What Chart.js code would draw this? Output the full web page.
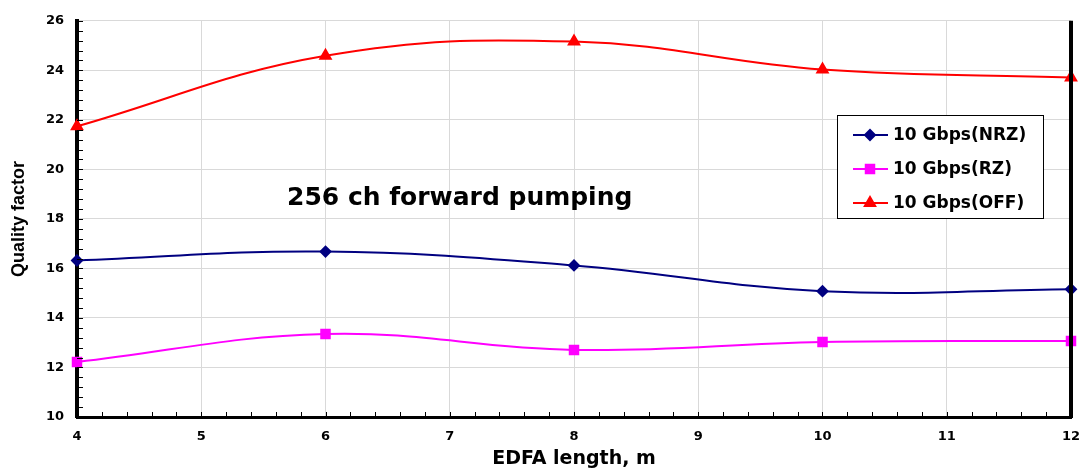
<!DOCTYPE html>
<html lang="en">
<head>
<meta charset="UTF-8">
<title>Quality factor vs EDFA length</title>
<script src="https://cdn.jsdelivr.net/npm/chart.js"></script>
<style>
  html, body { margin: 0; padding: 0; background: #fff; }
  #wrap { width: 1081px; height: 470px; position: relative; }
</style>
</head>
<body>
<div id="wrap"><canvas id="chart"></canvas></div>
<script>
// data
var edfaLength = [4, 6, 8, 10, 12];
var nrz = [16.32, 16.68, 16.12, 15.08, 15.16];
var rz = [12.22, 13.35, 12.71, 13.03, 13.07];
var off = [21.74, 24.59, 25.16, 24.03, 23.71];
var seriesNames = ['10 Gbps(NRZ)', '10 Gbps(RZ)', '10 Gbps(OFF)'];
var yTicks = [10, 12, 14, 16, 18, 20, 22, 24, 26];
var xTicks = [4, 5, 6, 7, 8, 9, 10, 11, 12];
var noteText = '256 ch forward pumping';

function pts(vals) {
    return vals.map(function(v, i) { return { x: edfaLength[i], y: v }; });
}

var boldFont = '"DejaVu Sans", Verdana, sans-serif';

// minor ticks, right frame, legend box and note
var extras = {
    id: 'extras',
    afterDraw: function(chart) {
        var ctx = chart.ctx, a = chart.chartArea;
        var xs = chart.scales.x, ys = chart.scales.y;
        ctx.save();
        ctx.strokeStyle = '#000';
        ctx.lineWidth = 1;
        ctx.beginPath();
        for (var v = 10; v <= 26.001; v += 0.4) {
            var py = Math.round(ys.getPixelForValue(v)) + 0.5;
            ctx.moveTo(a.left, py); ctx.lineTo(a.left + 6, py);
        }
        for (var u = 4; u <= 12.001; u += 0.2) {
            var px = Math.round(xs.getPixelForValue(u)) + 0.5;
            ctx.moveTo(px, a.bottom); ctx.lineTo(px, a.bottom - 5);
        }
        ctx.stroke();
        // right frame
        ctx.lineWidth = 4;
        ctx.beginPath();
        ctx.moveTo(a.right, a.top); ctx.lineTo(a.right, a.bottom + 1);
        ctx.stroke();

        // note
        ctx.fillStyle = '#000';
        ctx.font = 'bold 25px ' + boldFont;
        ctx.textAlign = 'left';
        ctx.textBaseline = 'middle';
        ctx.fillText(noteText, 287, 198);

        // legend
        var bx = 837, by = 115, bw = 206, bh = 103;
        ctx.fillStyle = '#fff';
        ctx.fillRect(bx, by, bw, bh);
        ctx.lineWidth = 1;
        ctx.strokeStyle = '#000';
        ctx.strokeRect(bx + 0.5, by + 0.5, bw, bh);
        ctx.font = 'bold 17px ' + boldFont;
        chart.data.datasets.forEach(function(ds, i) {
            var cy = by + 20 + i * 34;
            ctx.strokeStyle = ds.borderColor;
            ctx.lineWidth = 2;
            ctx.beginPath();
            ctx.moveTo(bx + 16, cy); ctx.lineTo(bx + 51, cy);
            ctx.stroke();
            Chart.helpers.drawPoint(ctx, {
                pointStyle: ds.pointStyle, radius: ds.pointRadius,
                borderWidth: 1, rotation: 0
            }, bx + 33, cy);
            ctx.fillStyle = ds.borderColor;
            ctx.strokeStyle = ds.borderColor;
            ctx.fill();
            ctx.fillStyle = '#000';
            ctx.fillText(ds.label, bx + 56, cy + 1);
        });
        ctx.restore();
    }
};

var tickFont = { family: boldFont, size: 13, weight: 'bold' };

new Chart(document.getElementById('chart'), {
    type: 'line',
    data: {
        datasets: [{
            label: seriesNames[0],
            data: pts(nrz),
            borderColor: '#000080',
            backgroundColor: '#000080',
            pointStyle: 'rectRot',
            pointRadius: 5,
            borderWidth: 2
        }, {
            label: seriesNames[1],
            data: pts(rz),
            borderColor: '#ff00ff',
            backgroundColor: '#ff00ff',
            pointStyle: 'rect',
            pointRadius: 6,
            borderWidth: 2
        }, {
            label: seriesNames[2],
            data: pts(off),
            borderColor: '#ff0000',
            backgroundColor: '#ff0000',
            pointStyle: 'triangle',
            pointRadius: 6,
            borderWidth: 2
        }]
    },
    options: {
        responsive: true,
        maintainAspectRatio: false,
        animation: false,
        clip: false,
        layout: { padding: { top: 19, right: 10, left: 0, bottom: 0 } },
        elements: { line: { tension: 0.4 } },
        plugins: { legend: { display: false }, tooltip: { enabled: false } },
        scales: {
            x: {
                type: 'linear',
                min: 4, max: 12,
                afterBuildTicks: function(s) { s.ticks = xTicks.map(function(v) { return { value: v }; }); },
                afterFit: function(s) { s.height = 53; s.paddingRight = 0; s.paddingLeft = 0; },
                grid: { color: '#d9d9d9', drawTicks: false },
                border: { color: '#000', width: 3 },
                ticks: { font: tickFont, color: '#000', padding: 12 },
                title: {
                    display: true, text: 'EDFA length, m', color: '#000',
                    font: { family: boldFont, size: 19, weight: 'bold' },
                    padding: { top: 0, bottom: 0 }
                }
            },
            y: {
                min: 10, max: 26,
                afterBuildTicks: function(s) { s.ticks = yTicks.map(function(v) { return { value: v }; }); },
                afterFit: function(s) { s.width = 77; },
                grid: { color: '#d9d9d9', drawTicks: false },
                border: { color: '#000', width: 4 },
                ticks: { font: tickFont, color: '#000', padding: 13 },
                title: {
                    display: true, text: 'Quality factor', color: '#000',
                    font: { family: '"Liberation Sans", Arial, sans-serif', size: 18, weight: 'bold' },
                    padding: { top: 8, bottom: 0 }
                }
            }
        }
    },
    plugins: [extras]
});
</script>
</body>
</html>
